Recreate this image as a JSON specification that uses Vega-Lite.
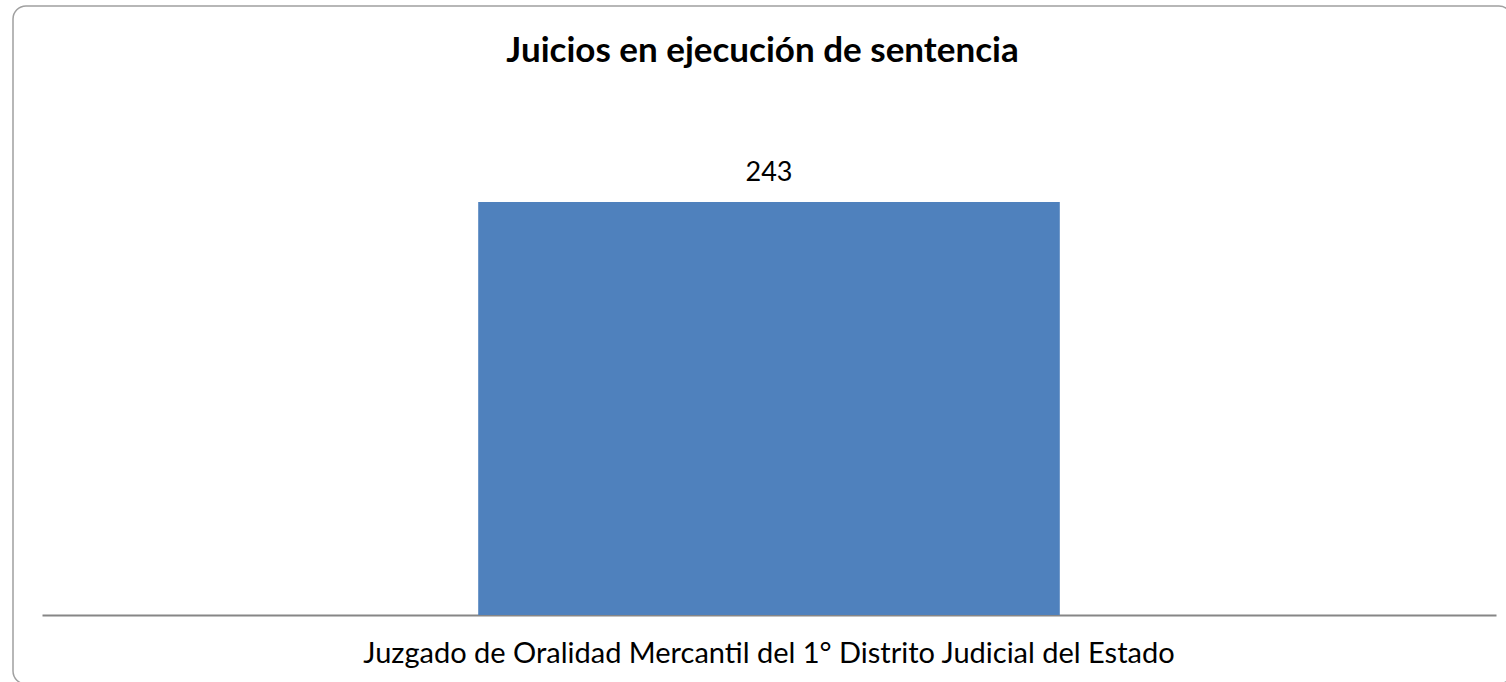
{
  "$schema": "https://vega.github.io/schema/vega-lite/v6.json",
  "autosize": "none",
  "width": 1499,
  "height": 678,
  "padding": {"left": 13, "top": 6, "right": 0, "bottom": 0},
  "background": "white",
  "view": {"stroke": "#A0A0A0", "strokeWidth": 1.5, "cornerRadius": 13},
  "title": {
    "text": "Juicios en ejecución de sentencia",
    "font": "Lato",
    "fontSize": 35,
    "fontWeight": "bold",
    "color": "#000000",
    "anchor": "middle",
    "baseline": "alphabetic",
    "offset": -91
  },
  "data": {"values": [
    {"juzgado": "Juzgado de Oralidad Mercantil del 1° Distrito Judicial del Estado", "juicios": 243}
  ]},
  "encoding": {
    "x": {
      "field": "juzgado", "type": "nominal",
      "scale": {"range": [29, 1483], "paddingInner": 0.6, "paddingOuter": 0.3},
      "axis": {"title": null, "ticks": false, "domainColor": "#868686", "domainWidth": 2, "labelFont": "Lato", "labelFontSize": 29, "labelColor": "#000000", "labelPadding": 24, "labelAngle": 0, "labelLimit": 0, "offset": -69}
    },
    "y": {
      "field": "juicios", "type": "quantitative",
      "scale": {"domain": [0, 300], "range": [609, 99], "nice": false},
      "axis": null
    }
  },
  "layer": [
    {"mark": {"type": "bar", "color": "#4F81BD"}},
    {"mark": {"type": "text", "font": "Lato", "fontSize": 27, "color": "#000000", "baseline": "alphabetic", "dy": -21}, "encoding": {"text": {"field": "juicios", "type": "quantitative"}}}
  ]
}
